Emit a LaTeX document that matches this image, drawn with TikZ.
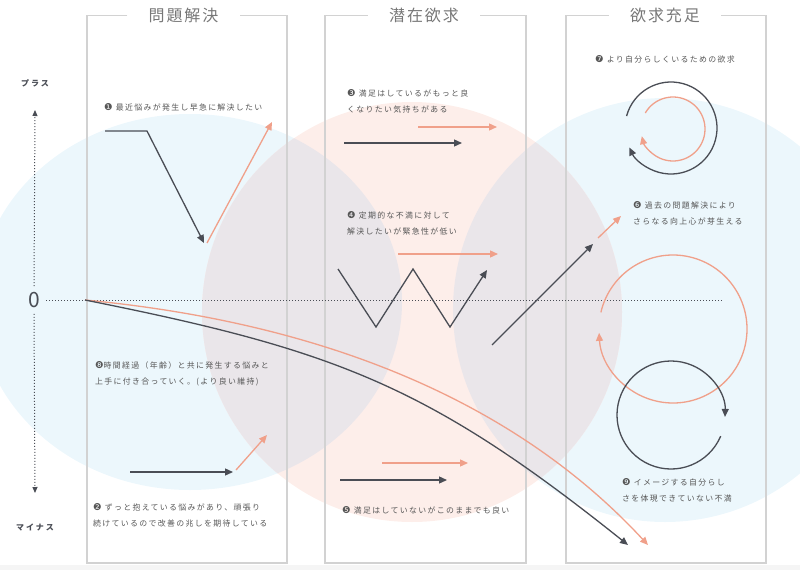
\documentclass[tikz,border=0pt]{standalone}
\usepackage{fontspec}
\setmainfont{Noto Sans CJK JP}
\newfontfamily\dingfont{DejaVu Sans}
\usepackage{xcolor}
\usepackage{tikz}
\usetikzlibrary{calc}
\usetikzlibrary{arrows.meta}

\definecolor{ink}{HTML}{4A4D55}
\definecolor{coral}{HTML}{F0A08A}
\definecolor{framegray}{HTML}{D2D2D2}
\definecolor{txtgray}{HTML}{565656}
\definecolor{headgray}{HTML}{777777}
\definecolor{bluebg}{HTML}{ECF7FC}
\definecolor{pinkbg}{HTML}{FDEEEA}
\definecolor{mixbg}{HTML}{EAE6EA}

\newcommand{\nb}[1]{{\dingfont\fontsize{9.5}{9.5}\selectfont #1}}

\tikzset{
  frame/.style={draw=framegray, line width=1.6pt},
  head/.style={text=headgray, font=\fontsize{16}{16}\selectfont\addfontfeature{LetterSpace=12}, minimum width=112pt, inner sep=0},
  note/.style={text=txtgray, font=\fontsize{7.9}{15.5}\selectfont\addfontfeature{LetterSpace=17}, anchor=north west, align=left, inner sep=0},
  axlab/.style={text=ink, font=\fontsize{8}{8}\selectfont\bfseries\addfontfeature{LetterSpace=25}, inner sep=0},
  dk/.style={draw=ink, line width=1.3pt, ->, >={Triangle[length=8pt,width=7pt]}},
  cr/.style={draw=coral, line width=1.3pt, ->, >={Triangle[length=8pt,width=7pt]}},
  axis/.style={draw=ink, line width=1pt, dotted}
}

\begin{document}
\begin{tikzpicture}[x=1pt, y=-1pt]
\useasboundingbox (0,0) rectangle (800,570);
% soft circles behind
\fill[bluebg] (190,302) ellipse [x radius=212, y radius=188];
\fill[bluebg] (665,310) circle [radius=212];
\fill[pinkbg] (412,312) circle [radius=210];
\begin{scope}
  \clip (412,312) circle [radius=210];
  \fill[mixbg] (190,302) ellipse [x radius=212, y radius=188];
  \fill[mixbg] (665,310) circle [radius=212];
\end{scope}
\fill[black!4] (0,565) rectangle (800,570);

% panels
\node[head] (h1) at (183.5,15.5) {問題解決};
\node[head] (h2) at (424,15.5) {潜在欲求};
\node[head] (h3) at (665,15.5) {欲求充足};
\draw[frame] (h1.west) -- (87,15.5) -- (87,563) -- (287,563) -- (287,15.5) -- (h1.east);
\draw[frame] (h2.west) -- (325,15.5) -- (325,563) -- (526,563) -- (526,15.5) -- (h2.east);
\draw[frame] (h3.west) -- (566,15.5) -- (566,563) -- (766,563) -- (766,15.5) -- (h3.east);

% axis
\node[axlab] (plus) at (35,83) {プラス};
\node[axlab] (minus) at (35,527) {マイナス};
\node[text=ink, font=\fontsize{21}{21}\selectfont, inner sep=6pt] (zero) at (34,300) {0};
\coordinate (vt) at (35,110);
\coordinate (vb) at (35,493);
\coordinate (hr) at (723,300);
\draw[axis, -{Triangle[length=6pt,width=5pt]}] (zero.north) -- (vt);
\draw[axis, -{Triangle[length=6pt,width=5pt]}] (zero.south) -- (vb);
\draw[axis] (zero.east) -- (hr);

% left panel
\coordinate (a1) at (105,131);
\coordinate (a2) at (147,131);
\coordinate (a3) at (204,243);
\coordinate (a4) at (207,243);
\coordinate (a5) at (272,122);
\draw[dk] (a1) -- (a2) -- (a3);
\draw[cr] (a4) -- (a5);
\coordinate (b1) at (130,472);
\coordinate (b2) at (233,472);
\coordinate (b3) at (236,470);
\coordinate (b4) at (267,435);
\draw[dk] (b1) -- (b2);
\draw[cr] (b3) -- (b4);

% long curves from the origin
\coordinate (o) at (85,300);
\coordinate (oe1) at (628,545);
\coordinate (oe2) at (648,545);
\draw[cr] (o) .. controls (400,330) and (560,450) .. (oe2);
\draw[dk] (o) .. controls (335,350) and (428,385) .. (oe1);

% middle panel
\coordinate (c1) at (418,127);
\coordinate (c2) at (497,127);
\coordinate (c3) at (344,143);
\coordinate (c4) at (462,143);
\draw[cr] (c1) -- (c2);
\draw[dk] (c3) -- (c4);
\coordinate (c5) at (398,254);
\coordinate (c6) at (498,254);
\draw[cr] (c5) -- (c6);
\coordinate (w1) at (338,269);
\coordinate (w2) at (376,327);
\coordinate (w3) at (413,269);
\coordinate (w4) at (450,327);
\coordinate (w5) at (487,270);
\draw[dk] (w1) -- (w2) -- (w3) -- (w4) -- (w5);
\coordinate (d1) at (492,345);
\coordinate (d2) at (593,244);
\coordinate (d3) at (598,238);
\coordinate (d4) at (621,216);
\draw[dk] (d1) -- (d2);
\draw[cr] (d3) -- (d4);
\coordinate (e1) at (382,463);
\coordinate (e2) at (468,463);
\coordinate (e3) at (340,480);
\coordinate (e4) at (447,480);
\draw[cr] (e1) -- (e2);
\draw[dk] (e3) -- (e4);

% right panel
\coordinate (rt) at (671,128);
\coordinate (ri) at (673,129);
\coordinate (rb) at (673,329);
\coordinate (rl) at (671,415);
\draw[dk] ($(rt)+(-165:46)$) arc[start angle=-165, end angle=155, radius=46];
\draw[cr] ($(ri)+(-150:32)$) arc[start angle=-150, end angle=167, radius=32];
\draw[cr] ($(rb)+(-167:74)$) arc[start angle=-167, end angle=177, radius=74];
\draw[dk] ($(rl)+(23:54)$) arc[start angle=23, end angle=362, radius=54];

% notes
\node[note] (t1) at (104,103.5) {\nb{❶} 最近悩みが発生し早急に解決したい};
\node[note] (t8) at (95,361.5) {\nb{❽}時間経過（年齢）と共に発生する悩みと\\上手に付き合っていく。(より良い維持)};
\node[note] (t2) at (93,503.5) {\nb{❷} ずっと抱えている悩みがあり、頑張り\\続けているので改善の兆しを期待している};
\node[note] (t3) at (347,89.5) {\nb{❸} 満足はしているがもっと良\\くなりたい気持ちがある};
\node[note] (t4) at (347,211.5) {\nb{❹} 定期的な不満に対して\\解決したいが緊急性が低い};
\node[note] (t5) at (342,506.5) {\nb{❺} 満足はしていないがこのままでも良い};
\node[note] (t7) at (595,55.5) {\nb{❼} より自分らしくいるための欲求};
\node[note] (t6) at (633,201.5) {\nb{❻} 過去の問題解決により\\さらなる向上心が芽生える};
\node[note] (t9) at (622,478.5) {\nb{❾} イメージする自分らし\\さを体現できていない不満};
\end{tikzpicture}
\end{document}
